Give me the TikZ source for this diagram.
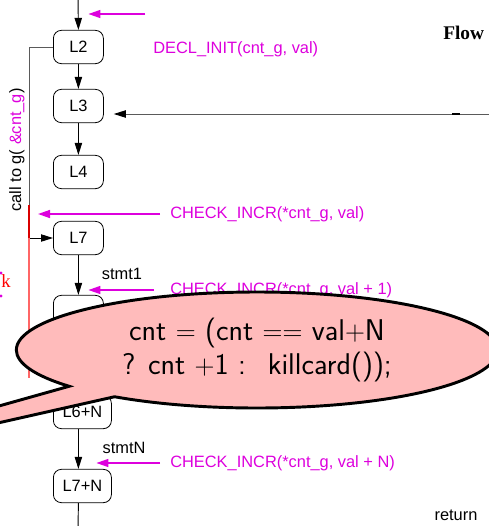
\documentclass[tikz,border=0pt]{standalone}
\usepackage{fontspec}
\newfontfamily\helv{Liberation Sans}
\newfontfamily\tms{Liberation Serif}
\usetikzlibrary{shapes.callouts,arrows.meta}
\definecolor{mag}{RGB}{221,0,221}
\definecolor{bubble}{RGB}{255,187,187}
\definecolor{wire}{RGB}{90,90,90}

\begin{document}
\begin{tikzpicture}[x=0.75pt, y=-0.75pt,
  every node/.style={font=\helv\fontsize{12.3}{14}\selectfont},
  stmtbox/.style={draw, rounded corners=6pt, minimum width=37.5pt, minimum height=25pt, anchor=west, inner sep=2pt, line width=0.6pt},
  flow/.style={-{Triangle[length=9pt,width=5.5pt,black]}, line width=0.7pt},
  chk/.style={-{Triangle[length=9pt,width=6pt]}, mag, line width=1.1pt},
  chklabel/.style={text=mag, anchor=west, inner sep=0pt}]

\useasboundingbox (0,0) rectangle (489,526);
\clip (0,0) rectangle (489,526);

% statements of f
\node[stmtbox] (L2) at (53,47) {L2};
\node[stmtbox] (L3) at (53,106) {L3};
\node[stmtbox] (L4) at (53,172) {L4};
\node[stmtbox] (L7) at (53,238) {L7};
\node[stmtbox] (L8) at (53,312) {};
\node[stmtbox, minimum width=43.5pt] (L6N) at (53,412) {L6+N};
\node[stmtbox, minimum width=43.5pt] (L7N) at (53,486) {L7+N};

% control flow
\coordinate (entry) at (78,-5);
\coordinate (exit) at (78,530);
\draw[flow] (entry) -- (L2.north);
\draw[flow] (L2.south) -- (L3.north);
\draw[flow] (L3.south) -- (L4.north);
\draw[flow] (L7.south) -- (L8.north);
\draw[flow] ([xshift=-3pt]L6N.south) -- ([xshift=-3pt]L7N.north);
\draw[line width=0.7pt] ([xshift=-3pt]L7N.south) -- (exit);

% back edge into L3
\coordinate (back) at (495,114);
\draw[flow, wire] (back) -- ([xshift=7.5pt]back -| L3.east);
\draw[line width=1.4pt] (452,114) -- (460,114);

% call to g
\coordinate (callbend) at (29,205);
\draw[wire, line width=0.7pt] (L2.west) -| (callbend);
\draw[red!85!black, line width=0.8pt] (callbend) -- (callbend |- L7.west);
\draw[flow] (callbend |- L7.west) -- (L7.west);
\draw[red!60, line width=0.8pt] (callbend |- L7.west) -- ++(0,140);
\node[rotate=90] (calltxt) at (17,150) {call to g( \textcolor{mag}{\&cnt\_g})};

% instrumentation
\coordinate (in0) at (145,14);
\draw[chk] (in0) -- ([xshift=7.5pt]in0 -| L2.north);
\node[chklabel] (decl) at (153,49) {DECL\_INIT(cnt\_g, val)};

\node[chklabel] (chk1) at (170,214) {CHECK\_INCR(*cnt\_g, val)};
\draw[chk] ([xshift=-7.5pt]chk1.west) -- ([xshift=6.75pt]chk1.west -| callbend);

\node (s1) at (122,274) {stmt1};
\node[chklabel] (chk2) at (170,290) {CHECK\_INCR(*cnt\_g, val + 1)};
\draw[chk] ([xshift=-12pt]chk2.west) -- ([xshift=7.5pt]chk2.west -| L7.south);

\node (sN) at (124,448) {stmtN};
\node[chklabel] (chkN) at (170,463) {CHECK\_INCR(*cnt\_g, val + N)};
\draw[chk] ([xshift=-7.5pt]chkN.west) -- ([xshift=13.5pt]chkN.west -| L7.south);

\node (ret) at (456,515) {return};
\node[font=\tms\bfseries\fontsize{14.5}{16}\selectfont, anchor=west, inner sep=0pt] (flowhd) at (443,33) {Flow};

% bits of the left column
\node[text=red, font=\tms\fontsize{14}{16}\selectfont, inner sep=0pt] (kk) at (6,281) {k};
\fill[mag] (1,273) circle (1.3pt);
\fill[mag] (1,296) circle (1.3pt);

% the check itself
\node[ellipse callout, draw, line width=2.2pt, fill=bubble, minimum width=361pt, minimum height=87pt,
  inner sep=0pt, callout absolute pointer={(-300,490)}, align=center,
  font=\sffamily\fontsize{22.5}{26}\selectfont] (note) at (257,350)
  {cnt $=$ (cnt $==$ val$+$N\\? cnt $+$1 : \ killcard());};

\end{tikzpicture}
\end{document}
